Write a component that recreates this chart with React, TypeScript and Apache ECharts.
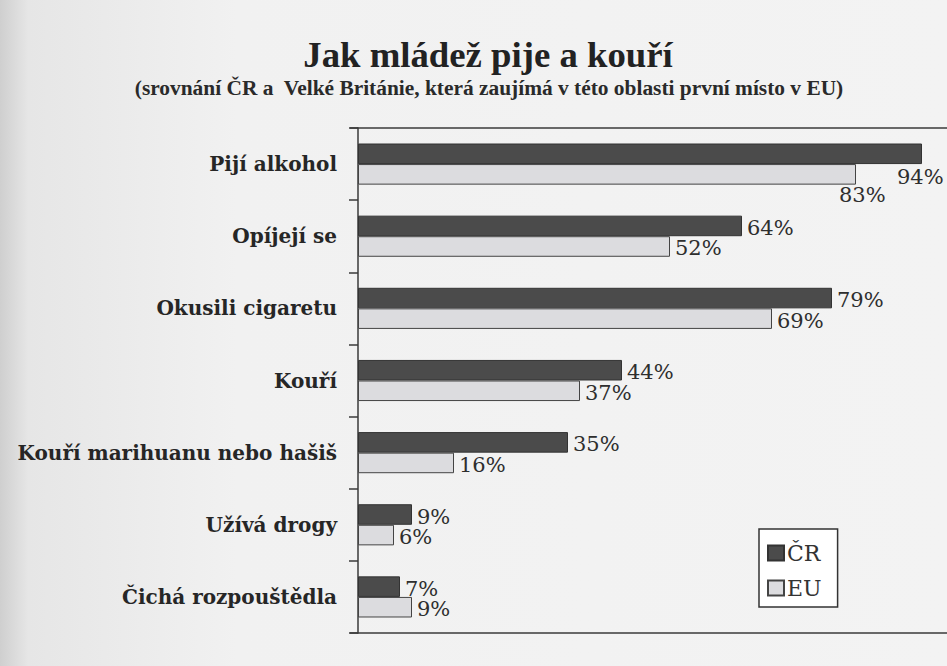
import React, { useEffect, useRef } from "react";
import * as echarts from "echarts";

const titleText = "Jak mládež pije a kouří";
const subtitleText = "(srovnání ČR a  Velké Británie, která zaujímá v této oblasti první místo v EU)";
const categories = [
  "Pijí alkohol",
  "Opíjejí se",
  "Okusili cigaretu",
  "Kouří",
  "Kouří marihuanu nebo hašiš",
  "Užívá drogy",
  "Čichá rozpouštědla",
];
const seriesNames = ["ČR", "EU"];
const crValues = [94, 64, 79, 44, 35, 9, 7];
const euValues = [83, 52, 69, 37, 16, 6, 9];

export default function App() {
  const ref = useRef<HTMLDivElement>(null);
  useEffect(() => {
    if (!ref.current) return;
    const chart = echarts.init(ref.current, undefined, { renderer: "svg" });
    const labelBase = {
      show: true,
      position: "right",
      distance: 5,
      formatter: "{c}%",
      fontFamily: "DejaVu Serif",
      fontSize: 21,
      color: "#2e2e2e",
      offset: [0, 2],
    };
    const mk = (vals: number[], firstOffset: number[]) =>
      vals.map((v, i) =>
        i === 0 ? { value: v, label: { offset: firstOffset } } : { value: v }
      );
    chart.setOption({
      animation: false,
      backgroundColor: {
        type: "linear",
        x: 0,
        y: 0,
        x2: 1,
        y2: 0,
        colorStops: [
          { offset: 0, color: "#cfcfcf" },
          { offset: 0.03, color: "#e6e6e6" },
          { offset: 0.25, color: "#f1f1f1" },
          { offset: 1, color: "#f3f3f3" },
        ],
      },
      graphic: [
        {
          type: "text",
          x: 488,
          y: 55,
          scaleX: 1.05,
          style: {
            text: titleText,
            textAlign: "center",
            textVerticalAlign: "middle",
            fontFamily: "Liberation Serif",
            fontWeight: "bold",
            fontSize: 35,
            fill: "#222",
          },
        },
        {
          type: "text",
          x: 489,
          y: 88,
          scaleX: 1.07,
          style: {
            text: subtitleText,
            textAlign: "center",
            textVerticalAlign: "middle",
            fontFamily: "Liberation Serif",
            fontWeight: "bold",
            fontSize: 20,
            fill: "#2a2a2a",
          },
        },
        {
          type: "line",
          shape: { x1: 350, y1: 128, x2: 947, y2: 128 },
          style: { stroke: "#3a3a3a", lineWidth: 1.5 },
        },
        {
          type: "line",
          shape: { x1: 350, y1: 633, x2: 947, y2: 633 },
          style: { stroke: "#3a3a3a", lineWidth: 1.5 },
        },
      ],
      legend: {
        data: seriesNames,
        orient: "vertical",
        left: 759,
        top: 529,
        padding: [13, 16, 8, 8],
        itemGap: 13,
        itemWidth: 16,
        itemHeight: 15,
        icon: "rect",
        backgroundColor: "#ffffff",
        borderColor: "#333",
        borderWidth: 1.5,
        borderRadius: 0,
        textStyle: {
          fontFamily: "DejaVu Serif",
          fontSize: 22,
          color: "#333",
          padding: [0, 0, 0, -2],
        },
      },
      grid: {
        left: 358,
        top: 128,
        width: 600,
        height: 505,
        outerBoundsMode: "none",
        containLabel: false,
        show: false,
      },
      xAxis: {
        type: "value",
        min: 0,
        max: 100,
        show: false,
        splitLine: { show: false },
      },
      yAxis: {
        type: "category",
        data: categories,
        inverse: true,
        axisLine: { show: true, lineStyle: { color: "#3a3a3a", width: 1.5 } },
        axisTick: { show: true, length: 9, lineStyle: { color: "#3a3a3a", width: 1.5 } },
        axisLabel: {
          margin: 21,
          fontFamily: "DejaVu Serif",
          fontWeight: "bold",
          fontSize: 20,
          color: "#262626",
        },
      },
      series: [
        {
          name: seriesNames[0],
          type: "bar",
          barGap: "0%",
          barCategoryGap: "43%",
          data: mk(crValues, [-30, 23]),
          itemStyle: { color: "#4b4b4b", borderColor: "#333", borderWidth: 1 },
          label: labelBase,
        },
        {
          name: seriesNames[1],
          type: "bar",
          barGap: "0%",
          barCategoryGap: "43%",
          data: mk(euValues, [-22, 21]),
          itemStyle: { color: "#dcdcdf", borderColor: "#444", borderWidth: 1 },
          label: labelBase,
        },
      ],
    });
    return () => chart.dispose();
  }, []);
  return (
    <div
      ref={ref}
      style={{ position: "absolute", left: 0, top: 0, width: 947, height: 666 }}
    />
  );
}
